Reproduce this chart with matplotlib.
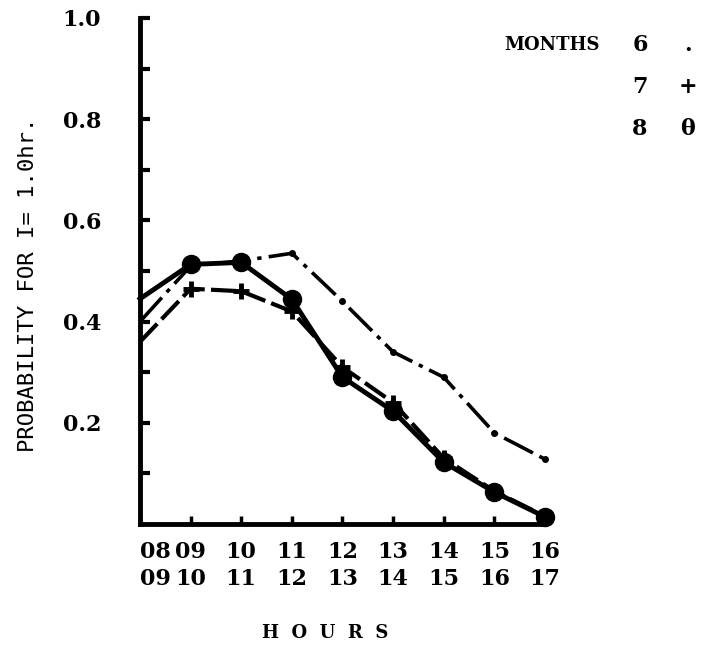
import matplotlib
matplotlib.use("Agg")
import matplotlib.pyplot as plt
import numpy as np

# hour intervals (top row / bottom row of the tick labels)
hours_from = ["08", "09", "10", "11", "12", "13", "14", "15", "16"]
hours_to = ["09", "10", "11", "12", "13", "14", "15", "16", "17"]

# probability per month
month6 = [0.40, 0.51, 0.52, 0.535, 0.44, 0.34, 0.29, 0.18, 0.128]
month7 = [0.36, 0.465, 0.46, 0.42, 0.31, 0.24, 0.13, 0.065, 0.015]
month8 = [0.445, 0.513, 0.517, 0.444, 0.29, 0.223, 0.122, 0.063, 0.014]

font = "DejaVu Serif"

fig = plt.figure(figsize=(7.06, 6.49), dpi=100)
ax = fig.add_axes([140 / 706, 1 - 524 / 649, (545 - 140) / 706, (524 - 18) / 649])

x = np.arange(len(hours_from))
marks = list(range(1, len(x)))  # no marker on the axis itself

ax.plot(x, month6, color="black", lw=2.6, linestyle=(0, (9, 2, 1.2, 2)),
        marker="o", ms=4, markevery=marks, clip_on=False, zorder=3)
ax.plot(x, month7, color="black", lw=3, linestyle=(0, (6, 1.5)),
        marker="+", ms=12, mew=3.5, markevery=marks, clip_on=False, zorder=4)
ax.plot(x, month8, color="black", lw=3.5, linestyle="-",
        marker="o", ms=13, markevery=marks, clip_on=False, zorder=5)

ax.set_xlim(0, 8)
ax.set_ylim(0, 1.0)

for side in ["top", "right"]:
    ax.spines[side].set_visible(False)
for side in ["left", "bottom"]:
    ax.spines[side].set_linewidth(3.5)

ax.set_yticks([0.2, 0.4, 0.6, 0.8, 1.0])
ax.set_yticklabels(["0.2", "0.4", "0.6", "0.8", "1.0"], fontfamily=font,
                   fontweight="bold", fontsize=16)
ax.set_yticks(np.arange(0.1, 1.0, 0.2), minor=True)
ax.tick_params(axis="y", which="both", direction="in", length=7, width=3, pad=28)

ax.set_xticks(x)
labels = ax.set_xticklabels([a + "\n" + b for a, b in zip(hours_from, hours_to)],
                            fontfamily=font, fontweight="bold", fontsize=16,
                            linespacing=1.3)
labels[0].set_horizontalalignment("left")
ax.tick_params(axis="x", direction="in", length=6, width=2.5, pad=12)

ax.set_xlabel("H  O  U  R  S", fontfamily=font, fontweight="bold", fontsize=13,
              va="center")
ax.xaxis.set_label_coords((325 - 140) / (545 - 140), -(633 - 524) / (524 - 18))
ax.set_ylabel("PROBABILITY FOR I= 1.0hr.", fontfamily="DejaVu Sans Mono",
              fontsize=16, va="center")
ax.yaxis.set_label_coords(-(140 - 28) / (545 - 140), (524 - 285) / (524 - 18))

# legend typed in the corner
fig.text(600 / 706, 1 - 45 / 649, "MONTHS", ha="right", va="center",
         fontfamily=font, fontweight="bold", fontsize=13)
for i, (m, sym) in enumerate([("6", "."), ("7", "+"), ("8", "\u03b8")]):
    yy = 1 - (45 + 42 * i) / 649
    fig.text(640 / 706, yy, m, ha="center", va="center", fontfamily=font,
             fontweight="bold", fontsize=16)
    fig.text(688 / 706, yy, sym, ha="center", va="center", fontfamily=font,
             fontweight="bold", fontsize=16)

fig.savefig("out.png", dpi=100)
